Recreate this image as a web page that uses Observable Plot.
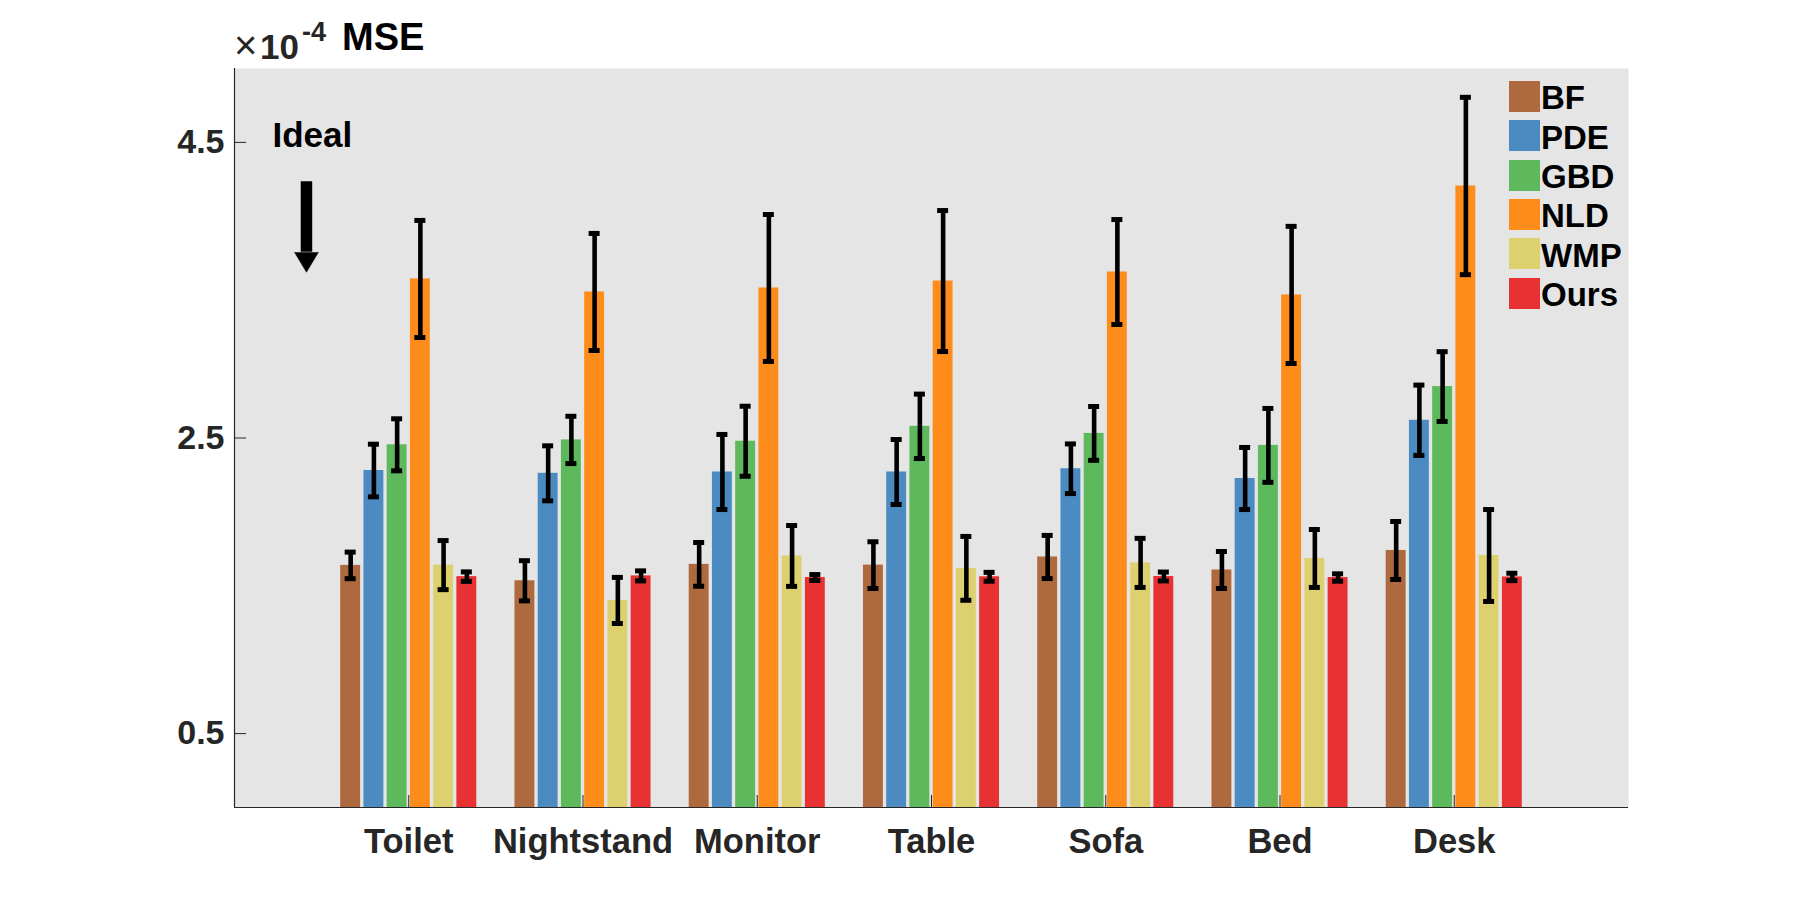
<!DOCTYPE html>
<html><head><meta charset="utf-8">
<script src="https://cdn.jsdelivr.net/npm/d3@7"></script>
<script src="https://cdn.jsdelivr.net/npm/@observablehq/plot@0.6"></script>
<style>
html,body{margin:0;padding:0;background:#fff;}
#wrap{position:relative;width:1800px;height:908px;font-family:'Liberation Sans',Arial,Helvetica,sans-serif;overflow:hidden;}
.abs{position:absolute;line-height:1;white-space:nowrap;}
</style></head><body><div id="wrap"></div>
<script>
// ---- data (MSE ×1e-4) ----
const categories = ["Toilet","Nightstand","Monitor","Table","Sofa","Bed","Desk"];
const methods = ["BF","PDE","GBD","NLD","WMP","Ours"];
const colors = ["#ae693e","#4b8bc1","#5eb85c","#fe8c1b","#ddd06f","#e83133"];
const bf   = [1.638,1.534,1.645,1.640,1.695,1.607,1.739];
const pde  = [2.280,2.261,2.270,2.270,2.292,2.226,2.620];
const gbd  = [2.454,2.487,2.478,2.579,2.531,2.450,2.848];
const nld  = [3.576,3.488,3.515,3.562,3.623,3.468,4.205];
const wmp  = [1.640,1.401,1.702,1.618,1.655,1.685,1.705];
const ours = [1.562,1.567,1.556,1.561,1.563,1.556,1.560];
const bfErr   = [0.090,0.136,0.148,0.158,0.146,0.125,0.196];
const pdeErr  = [0.178,0.186,0.254,0.220,0.168,0.210,0.238];
const gbdErr  = [0.176,0.160,0.237,0.218,0.182,0.250,0.236];
const nldErr  = [0.396,0.396,0.497,0.477,0.355,0.464,0.600];
const wmpErr  = [0.166,0.156,0.206,0.216,0.166,0.196,0.311];
const oursErr = [0.032,0.034,0.020,0.030,0.030,0.025,0.025];
const yTicks = [0.5, 2.5, 4.5];
const ideal = {label: "Ideal", textX: 0.218, textY: 4.468, arrowX: 0.413, arrowTop: 4.233, arrowBase: 3.757};

// ---- build table ----
const series = [bf, pde, gbd, nld, wmp, ours];
const errs = [bfErr, pdeErr, gbdErr, nldErr, wmpErr, oursErr];
const groupWidth = 0.8;
const slot = groupWidth / methods.length;
const barW = slot * 0.857;
const capHalf = slot * 0.237;
const rows = [];
categories.forEach((c, i) => {
  methods.forEach((m, k) => {
    const xc = (i + 1) + (k - (methods.length - 1) / 2) * slot;
    rows.push({category: c, method: m, value: series[k][i], err: errs[k][i], xc});
  });
});
const caps = rows.flatMap(d => [{xc: d.xc, y: d.value + d.err}, {xc: d.xc, y: d.value - d.err}]);

const chart = Plot.plot({
  width: 1800, height: 908,
  marginLeft: 234, marginRight: 172, marginTop: 68, marginBottom: 101,
  style: {fontFamily: "'Liberation Sans', Arial, Helvetica, sans-serif", background: "transparent", color: "#262626"},
  x: {domain: [0, 8]},
  y: {domain: [0, 5]},
  color: {domain: methods, range: colors},
  marks: [
    Plot.frame({fill: "#e5e5e5", stroke: null}),
    Plot.rect(rows, {x1: d => d.xc - barW / 2, x2: d => d.xc + barW / 2, y1: 0, y2: "value", fill: "method"}),
    Plot.ruleX(rows, {x: "xc", y1: d => d.value - d.err, y2: d => d.value + d.err, stroke: "black", strokeWidth: 4.6}),
    Plot.ruleY(caps, {y: "y", x1: d => d.xc - capHalf, x2: d => d.xc + capHalf, stroke: "black", strokeWidth: 5}),
    Plot.ruleX([0], {stroke: "#262626", strokeWidth: 1.2}),
    Plot.ruleY([0], {stroke: "#262626", strokeWidth: 1.2}),
    Plot.axisY({ticks: yTicks, tickSize: -12, tickPadding: 22, tickFormat: d => d.toFixed(1), fontSize: 34, fontWeight: "bold", label: null, stroke: "#262626"}),
    Plot.axisX({ticks: d3.range(1, categories.length + 1), tickSize: -12, tickPadding: 33, tickFormat: i => categories[i - 1], fontSize: 34.5, fontWeight: "bold", label: null}),
    Plot.text([ideal], {x: "textX", y: "textY", text: "label", textAnchor: "start", lineAnchor: "bottom", fontSize: 35, fontWeight: "bold", fill: "black"}),
    Plot.ruleX([ideal], {x: "arrowX", y1: "arrowBase", y2: "arrowTop", stroke: "black", strokeWidth: 11.5}),
    Plot.vector([ideal], {x: "arrowX", y: "arrowBase", length: 20, rotate: 180, anchor: "start", shape: "spike", r: 12, fill: "black", stroke: "black", strokeWidth: 0.5})
  ]
});

const wrap = document.getElementById("wrap");
wrap.appendChild(chart);

// title: ×10^-4 and MSE
function addText(txt, left, baseline, size, weight, color) {
  const s = document.createElement("div");
  s.className = "abs";
  s.textContent = txt;
  s.style.left = left + "px";
  s.style.top = (baseline - 0.8465 * size) + "px";
  s.style.fontSize = size + "px";
  s.style.fontWeight = weight;
  s.style.color = color;
  wrap.appendChild(s);
}
addText("\u00d7", 234, 59, 40, "normal", "#262626");
addText("10", 260, 59, 35, "bold", "#262626");
addText("-4", 302, 42, 27, "bold", "#262626");
addText("MSE", 342, 50, 38, "bold", "#000");

// legend
methods.forEach((m, k) => {
  const top = 81 + k * 39.3;
  const sw = document.createElement("div");
  sw.className = "abs";
  sw.style.left = "1509px"; sw.style.top = top + "px";
  sw.style.width = "31px"; sw.style.height = "31px";
  sw.style.background = colors[k];
  wrap.appendChild(sw);
  addText(m, 1541, top + 28.3, 33, "bold", "#000");
});
</script></body></html>
